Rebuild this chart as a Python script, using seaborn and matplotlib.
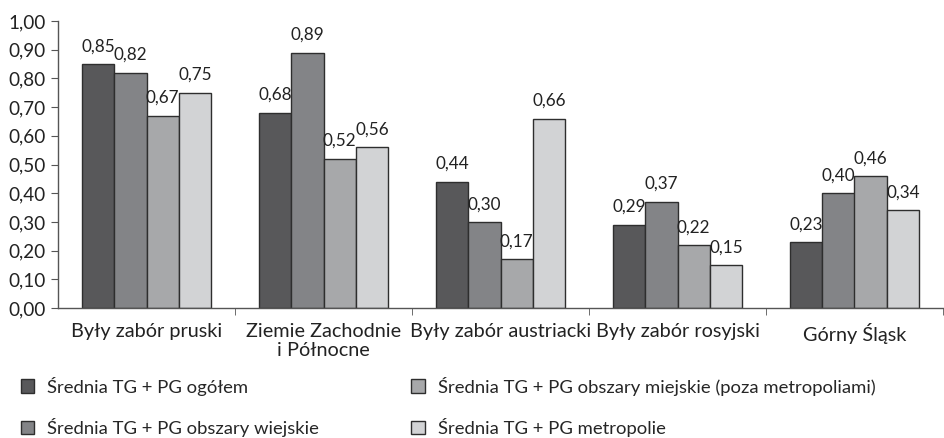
import matplotlib
matplotlib.use('Agg')
import matplotlib.pyplot as plt
import seaborn as sns
import pandas as pd
from matplotlib.ticker import FuncFormatter, FixedLocator

regions = ['Były zabór pruski', 'Ziemie Zachodnie\ni Północne', 'Były zabór austriacki',
           'Były zabór rosyjski', 'Górny Śląsk']
series = ['Średnia TG + PG ogółem', 'Średnia TG + PG obszary wiejskie',
          'Średnia TG + PG obszary miejskie (poza metropoliami)', 'Średnia TG + PG metropolie']
ogolem = [0.85, 0.68, 0.44, 0.29, 0.23]
wiejskie = [0.82, 0.89, 0.30, 0.37, 0.40]
miejskie = [0.67, 0.52, 0.17, 0.22, 0.46]
metropolie = [0.75, 0.56, 0.66, 0.15, 0.34]
yticks = [i / 10 for i in range(11)]

colors = ['#58585a', '#838487', '#a7a8aa', '#d2d3d5']

rows = []
for name, vals in zip(series, [ogolem, wiejskie, miejskie, metropolie]):
    for reg, v in zip(regions, vals):
        rows.append({'region': reg, 'seria': name, 'wartosc': v})
df = pd.DataFrame(rows)

sns.set_style('white')
plt.rcParams['font.family'] = ['Lato', 'DejaVu Sans']

fig = plt.figure(figsize=(9.44, 4.38), dpi=100)
ax = fig.add_axes([58 / 944, 130 / 438, 885 / 944, 287 / 438])

sns.barplot(data=df, x='region', y='wartosc', hue='seria', palette=colors,
            width=0.73, edgecolor='#2e2e2e', linewidth=1, saturation=1,
            legend=True, ax=ax)

fmt = lambda v: f'{v:.2f}'.replace('.', ',')
for cont in ax.containers:
    ax.bar_label(cont, labels=[fmt(b.get_height()) for b in cont], padding=7,
                 fontsize=12.3, color='#222222')

ax.set_xlim(-0.5, 4.5)
ax.set_ylim(0, 1)
ax.set_yticks(yticks)
ax.yaxis.set_major_formatter(FuncFormatter(lambda v, p: fmt(v)))
ax.set_xlabel('')
ax.set_ylabel('')
ax.set_xticks(range(len(regions)))
ax.set_xticklabels([])
ax.xaxis.set_minor_locator(FixedLocator([0.5, 1.5, 2.5, 3.5, 4.5]))
ax.tick_params(axis='x', which='major', length=0)
ax.tick_params(axis='x', which='minor', length=5, direction='out', color='#555555', bottom=True)
ax.tick_params(axis='y', length=5, direction='out', color='#555555', left=True,
               labelsize=13.6, labelcolor='#222222', pad=4)
for s in ['top', 'right']:
    ax.spines[s].set_visible(False)
for s in ['left', 'bottom']:
    ax.spines[s].set_color('#555555')
    ax.spines[s].set_linewidth(1)

# category labels, centred line by line
for i, reg in enumerate(regions):
    ax.annotate(reg, xy=(i, 0), xycoords=('data', 'axes fraction'),
                xytext=(0, -11), textcoords='offset points', ha='center', va='top',
                multialignment='center', linespacing=1.15, fontsize=14.3,
                color='#222222', annotation_clip=False)

handles, labels = ax.get_legend_handles_labels()
ax.get_legend().remove()
leg = fig.legend(handles, labels, ncol=2, loc='upper left',
                 bbox_to_anchor=(4 / 944, 1 - 360 / 438), frameon=False,
                 fontsize=13.3, handlelength=0.75, handleheight=0.75,
                 handletextpad=0.7, labelspacing=1.2, columnspacing=4.95)
for h in leg.legend_handles:
    h.set_edgecolor('#2e2e2e')
    h.set_linewidth(1)

fig.savefig('out.png', dpi=100)
